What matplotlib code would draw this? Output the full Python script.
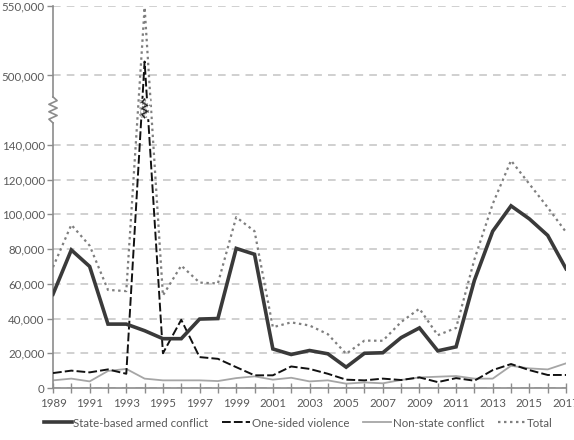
import numpy as np
import matplotlib
matplotlib.use("Agg")
import matplotlib.pyplot as plt
from matplotlib.ticker import FuncFormatter
from matplotlib.transforms import blended_transform_factory

years = list(range(1989, 2018))

state_based = [54000, 79500, 70000, 36800, 36800, 33000, 28400, 28400, 39700, 40000,
               80400, 77000, 22500, 19300, 21600, 19700, 12000, 20000, 20300, 29000,
               34600, 21400, 23700, 62000, 90300, 104900, 97400, 87900, 68700]
one_sided = [8600, 10000, 9000, 10700, 8200, 510000, 20000, 39300, 17800, 16800,
             12000, 7300, 7300, 12400, 11000, 8200, 4800, 4400, 5400, 4600,
             6100, 3400, 5700, 4200, 10300, 13800, 10300, 7500, 7500]
non_state = [4400, 5400, 3800, 9800, 11000, 5400, 4400, 4400, 4400, 4000,
             5700, 6700, 4800, 5900, 3800, 4400, 2500, 3200, 2700, 4600,
             6100, 6500, 6900, 5400, 5400, 12800, 11300, 10700, 14200]
total = [69600, 94000, 82000, 56500, 55800, 549000, 53300, 70500, 60700, 60200,
         98400, 90300, 35000, 37800, 36000, 31000, 19700, 27300, 27200, 38000,
         45700, 30400, 34600, 74000, 106000, 131000, 117500, 104000, 89800]

y_ticks = [0, 20000, 40000, 60000, 80000, 100000, 120000, 140000, 500000, 550000]
legend_labels = ["State-based armed conflict", "One-sided violence",
                 "Non-state conflict", "Total"]

LOW_TOP, HIGH_BOT = 140000, 500000


def fwd(v):
    v = np.asarray(v, dtype=float)
    return np.where(v <= LOW_TOP, v / 20000.0,
           np.where(v < HIGH_BOT, 7 + 2 * (v - LOW_TOP) / (HIGH_BOT - LOW_TOP),
                    9 + (v - HIGH_BOT) / 25000.0))


def inv(u):
    u = np.asarray(u, dtype=float)
    return np.where(u <= 7, u * 20000.0,
           np.where(u < 9, LOW_TOP + (u - 7) * (HIGH_BOT - LOW_TOP) / 2,
                    HIGH_BOT + (u - 9) * 25000.0))


plt.rcParams['font.family'] = ['Lato', 'DejaVu Sans']
fig = plt.figure(figsize=(5.74, 4.40), dpi=100)
ax = fig.add_axes([53 / 574, 52 / 440, 513 / 574, 382 / 440])
ax.set_yscale('function', functions=(fwd, inv))

ax.plot(years, state_based, color='#3a3a3a', lw=2.6, solid_joinstyle='miter', zorder=4)
ax.plot(years, one_sided, color='#111111', lw=1.4, dashes=(4.5, 1.6), zorder=3)
ax.plot(years, non_state, color='#a6a6a6', lw=1.3, zorder=2)
ax.plot(years, total, color='#7f7f7f', lw=1.6, dashes=(1.1, 1.6), zorder=3)

ax.set_xlim(1989, 2017)
ax.set_ylim(0, 550000)
ax.set_yticks(y_ticks)
ax.yaxis.set_major_formatter(FuncFormatter(lambda v, p: "{:,.0f}".format(v)))
ax.set_xticks(years)
ax.set_xticklabels([str(y) if (y - 1989) % 2 == 0 else "" for y in years])
ax.tick_params(axis='x', direction='inout', length=7, width=1, color='#8c8c8c',
               labelsize=8.3, labelcolor='#595959', pad=4)
ax.tick_params(axis='y', direction='out', length=4, width=1, color='#8c8c8c',
               labelsize=8.3, labelcolor='#595959', pad=2)
ax.grid(axis='y', color='#c3c3c3', lw=1.1, dashes=(5, 4))
ax.set_axisbelow(True)

for s in ['top', 'right', 'left']:
    ax.spines[s].set_visible(False)
ax.spines['bottom'].set_color('#8c8c8c')
ax.spines['bottom'].set_linewidth(1.2)

# y axis with a break (zigzag)
ya = ax.transAxes
z_lo, z_hi = 0.694, 0.762
ax.plot([0, 0], [0, z_lo], transform=ya, color='#8c8c8c', lw=1.2, clip_on=False)
ax.plot([0, 0], [z_hi, 1], transform=ya, color='#8c8c8c', lw=1.2, clip_on=False)
zx = np.array([0, -0.008, 0.008, -0.008, 0.008, -0.008, 0.008, 0])
zy = np.linspace(z_lo, z_hi, len(zx))
ax.plot(zx, zy, transform=ya, color='#8c8c8c', lw=1.2, clip_on=False)

# break mark on the 1994 spike
bt = blended_transform_factory(ax.transData, ax.transAxes)
ax.fill_between([1993.78, 1994.22], 0.708, 0.756, transform=bt, color='white', zorder=5)
bx = 1994 + np.array([0, -0.15, 0.15, -0.15, 0.15, -0.15, 0])
by = np.linspace(0.708, 0.756, len(bx))
ax.plot(bx, by, transform=bt, color='#222222', lw=1.2, zorder=6)
ax.plot(bx - 0.12, by, transform=bt, color='#888888', lw=1.0, dashes=(1, 1), zorder=6)
ax.plot(bx + 0.12, by, transform=bt, color='#888888', lw=1.0, dashes=(1, 1), zorder=6)

leg = fig.legend(ax.get_lines()[:4], legend_labels, loc='center', ncol=4,
                 bbox_to_anchor=(0.52, 17 / 440), frameon=False, fontsize=8.3,
                 handlelength=2.4, handletextpad=0.15, columnspacing=1.2)
for t in leg.get_texts():
    t.set_color('#595959')

fig.savefig("out.png", dpi=100)
